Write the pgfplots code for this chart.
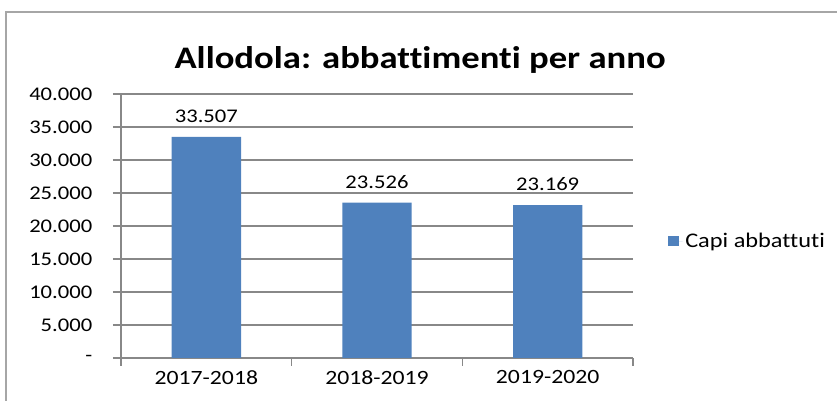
\documentclass[border=0pt]{standalone}
\usepackage{fontspec}
\setmainfont[FakeStretch=1.17, Ligatures=NoCommon]{Carlito}
\usepackage{pgfplots}
\pgfplotsset{compat=1.18}
\definecolor{barblue}{HTML}{4F81BD}
\definecolor{gridgray}{HTML}{888888}
\definecolor{framegray}{HTML}{A6A6A6}

\begin{document}
\begin{tikzpicture}
\begin{axis}[
    name=ax,
    scale only axis,
    width=384pt, height=198pt,
    ybar,
    bar width=52pt,
    xmin=-0.5, xmax=2.5,
    ymin=0, ymax=40000,
    scaled y ticks=false,
    axis x line*=bottom,
    axis y line*=left,
    axis line style={gridgray, line width=1.1pt},
    tick style={gridgray, line width=1.1pt},
    tick align=outside,
    major tick length=6pt,
    ytick={0,5000,...,40000},
    yticklabels={-,5.000,10.000,15.000,20.000,25.000,30.000,35.000,40.000},
    yticklabel style={xshift=-12pt, font=\fontsize{14.5}{16}\selectfont},
    xtick={-0.5,0.5,1.5,2.5},
    xticklabels={},
    extra x ticks={0,1,2},
    extra x tick labels={2017-2018,2018-2019,2019-2020},
    extra x tick style={major tick length=0pt,
        xticklabel style={yshift=-6pt, font=\fontsize{15.2}{17}\selectfont}},
    ymajorgrids,
    grid style={gridgray, line width=1.1pt},
    font=\fontsize{14.25}{16}\selectfont,
    title={Allodola: abbattimenti per anno},
    title style={at={(0.584,1)}, anchor=base, yshift=13pt,
        font=\bfseries\fontsize{23.5}{28}\selectfont},
    legend style={at={(1,0.443)}, anchor=west, xshift=26pt, draw=none,
        fill=none, inner sep=0pt, font=\fontsize{15.6}{17}\selectfont},
    legend image code/.code={\path (0pt,0pt) -- (11pt,0pt);
        \fill[barblue] (0pt,-4pt) rectangle (8pt,4pt);},
    nodes near coords,
    point meta=explicit symbolic,
    nodes near coords style={anchor=base, yshift=11pt, font=\fontsize{14.5}{16}\selectfont},
]
\addplot[fill=barblue, draw=none] coordinates {
    (0,33507)[33.507]
    (1,23526)[23.526]
    (2,23169)[23.169]
};
\addlegendentry{Capi abbattuti}
\end{axis}
\draw[framegray, line width=1pt]
    ([shift={(-86.25pt,-33pt)}]ax.south west) --
    ([shift={(-86.25pt,61.5pt)}]ax.north west) --
    ([shift={(160pt,61.5pt)}]ax.north east);
\pgfresetboundingbox
\path ([shift={(-90.75pt,-32.25pt)}]ax.south west) rectangle ([shift={(153pt,70.5pt)}]ax.north east);
\end{tikzpicture}
\end{document}
